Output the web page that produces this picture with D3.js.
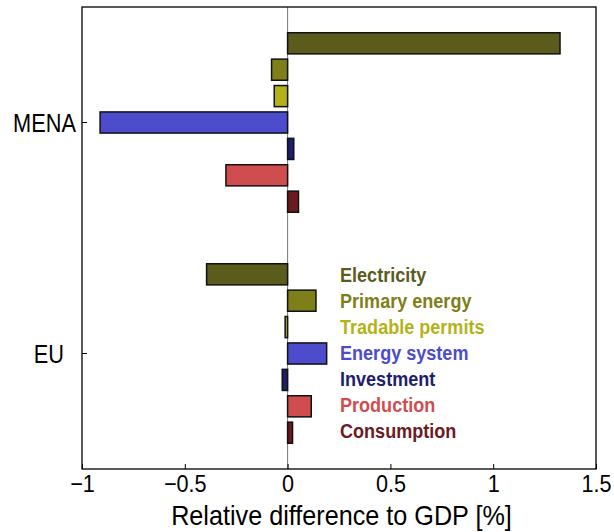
<!DOCTYPE html>
<html>
<head>
<meta charset="utf-8">
<script src="https://cdn.jsdelivr.net/npm/d3@7"></script>
<style>
  html, body { margin: 0; padding: 0; background: #fff; }
  svg { display: block; }
  text { font-family: "Liberation Sans", Arial, sans-serif; }
</style>
</head>
<body>
<svg id="chart" width="614" height="532"></svg>
<script>
// Regions (rows) and the components plotted for each region
const regions = ["MENA", "EU"];
const regionLabels = ["MENA", "EU\u00a0\u00a0"];
const components = ["Electricity", "Primary energy", "Tradable permits", "Energy system", "Investment", "Production", "Consumption"];
const componentColors = ["#5b5b1b", "#7f7f1a", "#b3b318", "#4c4ccc", "#1e1e6e", "#d04d4f", "#6d1a1f"];

// Relative difference to GDP [%], one array per region, in component order
const menaValues = [1.325, -0.078, -0.065, -0.912, 0.03, -0.30, 0.053];
const euValues = [-0.394, 0.138, -0.012, 0.19, -0.026, 0.115, 0.024];

const xTicks = [-1, -0.5, 0, 0.5, 1, 1.5];
const xTickLabels = ["\u22121", "\u22120.5", "0", "0.5", "1", "1.5"];

const valuesByRegion = { MENA: menaValues, EU: euValues };

const svg = d3.select("#chart");
const frame = { left: 82, right: 596, top: 7, bottom: 469 };

const x = d3.scaleLinear().domain([-1, 1.5]).range([frame.left, frame.right]);
const y = d3.scaleBand().domain(regions).range([frame.top, frame.bottom]).padding(0);
const groupHalf = y.bandwidth() * 0.4;
const yInner = d3.scaleBand().domain(components).range([-groupHalf, groupHalf])
  .paddingInner(0.2).paddingOuter(0.1);
const color = d3.scaleOrdinal().domain(components).range(componentColors);

// Zero reference line
svg.append("line")
  .attr("x1", x(0)).attr("x2", x(0))
  .attr("y1", frame.top).attr("y2", frame.bottom)
  .attr("stroke", "#777").attr("stroke-width", 1);

// Bars
const rows = regions.flatMap(r => components.map((c, i) => ({ region: r, comp: c, value: valuesByRegion[r][i] })));
svg.append("g").selectAll("rect").data(rows).join("rect")
  .attr("x", d => x(Math.min(0, d.value)))
  .attr("width", d => Math.abs(x(d.value) - x(0)))
  .attr("y", d => y(d.region) + y.bandwidth() / 2 + yInner(d.comp))
  .attr("height", yInner.bandwidth())
  .attr("fill", d => color(d.comp))
  .attr("stroke", "#111")
  .attr("stroke-width", 1.5);

// Frame
svg.append("rect")
  .attr("x", frame.left).attr("y", frame.top)
  .attr("width", frame.right - frame.left).attr("height", frame.bottom - frame.top)
  .attr("fill", "none").attr("stroke", "#000").attr("stroke-width", 1.3);

// Bottom axis, ticks pointing inward
const xAxis = svg.append("g")
  .attr("transform", `translate(0,${frame.bottom})`)
  .call(d3.axisBottom(x).tickValues(xTicks).tickSizeInner(-5).tickSizeOuter(0)
    .tickFormat((d, i) => xTickLabels[i]));
xAxis.select(".domain").remove();
xAxis.selectAll(".tick line").attr("stroke", "#000").attr("stroke-width", 1);
xAxis.selectAll(".tick text")
  .attr("y", 23).attr("dy", 0)
  .attr("font-size", 24)
  .attr("fill", "#000")
  .attr("transform", "scale(0.9,1)");

// Left axis with region labels
const yAxis = svg.append("g")
  .attr("transform", `translate(${frame.left},0)`)
  .call(d3.axisLeft(y).tickSizeInner(-5).tickSizeOuter(0)
    .tickFormat((d, i) => regionLabels[i]));
yAxis.select(".domain").remove();
yAxis.selectAll(".tick line").attr("stroke", "#000").attr("stroke-width", 1);
yAxis.selectAll(".tick text")
  .attr("x", -7).attr("dy", "0.36em")
  .attr("font-size", 25)
  .attr("fill", "#000")
  .attr("xml:space", "preserve")
  .style("white-space", "pre")
  .attr("transform", "scale(0.87,1)");

// Axis title
svg.append("text")
  .attr("transform", `translate(${(170 + 513) / 2},525) scale(0.9,1)`)
  .attr("text-anchor", "middle")
  .attr("font-size", 28)
  .attr("fill", "#000")
  .text("Relative difference to GDP [%]");

// Legend: coloured labels only
const legend = svg.append("g");
legend.selectAll("text").data(components).join("text")
  .attr("transform", (d, i) => `translate(340,${282 + i * 26}) scale(0.86,1)`)
  .attr("font-size", 21)
  .attr("font-weight", "bold")
  .attr("fill", d => color(d))
  .text(d => d);
</script>
</body>
</html>
